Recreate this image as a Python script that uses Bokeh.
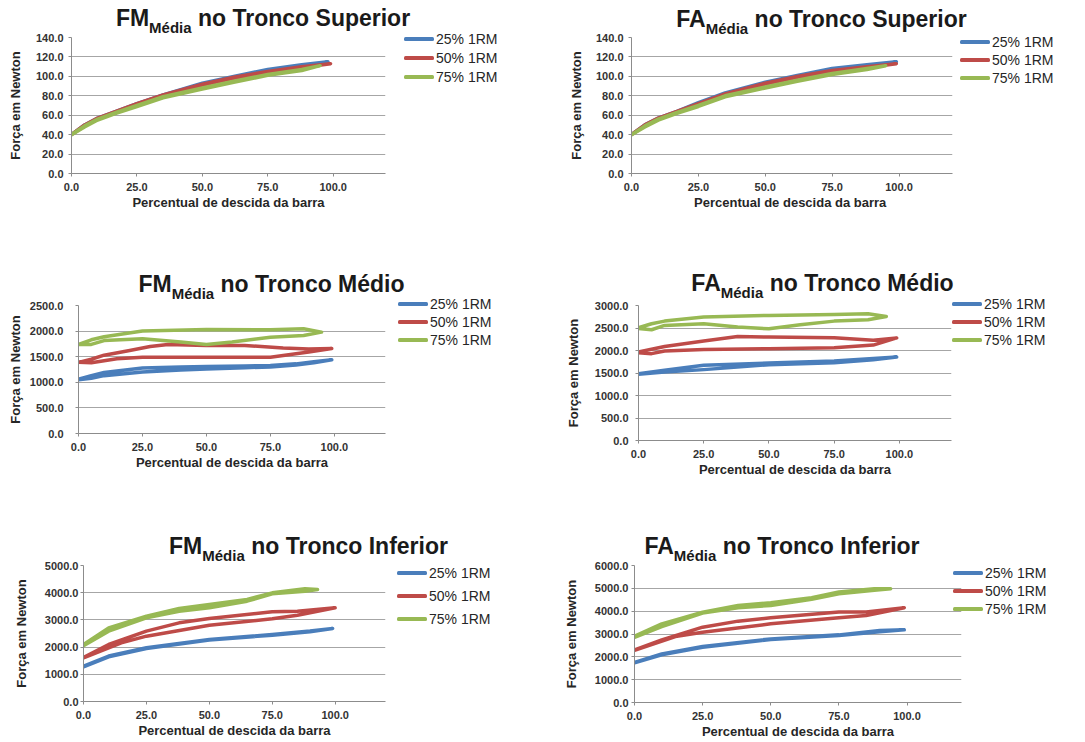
from bokeh.plotting import figure
from bokeh.layouts import column, row
from bokeh.models import Range1d, FixedTicker, NumeralTickFormatter, Div
from bokeh.embed import file_html
from bokeh.resources import INLINE

# ---------------- data ----------------
series_labels = ["25% 1RM", "50% 1RM", "75% 1RM"]
x_ticks = [0, 25, 50, 75, 100]
x_title = "Percentual de descida da barra"
x_title_2 = "Percentual de descida da  barra"
y_title = "Força em Newton"

# FM Tronco Superior (loops: outgoing then returning)
fm_sup_x_25 = [0, 5, 10, 17, 25, 35, 50, 62, 75, 88, 98, 88, 75, 62, 50, 35, 25, 17, 10, 5, 0]
fm_sup_y_25 = [40, 50, 57, 64, 72, 81, 93, 100, 107, 112, 115, 111, 106, 99, 92, 80, 71, 63, 56, 49, 40]
fm_sup_x_50 = [0, 5, 10, 17, 25, 35, 50, 62, 75, 88, 99, 88, 75, 62, 50, 35, 25, 17, 10, 5, 0]
fm_sup_y_50 = [40, 50, 57, 64, 72, 81, 92, 99, 105, 110, 113, 109, 104, 98, 91, 80, 71, 63, 56, 49, 40]
fm_sup_x_75 = [0, 5, 10, 17, 25, 35, 50, 62, 75, 88, 95, 88, 75, 62, 50, 35, 25, 17, 10, 5, 0]
fm_sup_y_75 = [40, 49, 56, 63, 70, 79, 88, 95, 102, 107, 111, 106, 101, 94, 87, 78, 69, 62, 55, 48, 40]

# FA Tronco Superior
fa_sup_x_25 = [0, 5, 10, 17, 25, 35, 50, 62, 75, 88, 99, 88, 75, 62, 50, 35, 25, 17, 10, 5, 0]
fa_sup_y_25 = [40, 50, 57, 64, 73, 83, 94, 101, 108, 112, 115, 111, 107, 100, 93, 82, 72, 63, 56, 49, 40]
fa_sup_x_50 = [0, 5, 10, 17, 25, 35, 50, 62, 75, 88, 99, 88, 75, 62, 50, 35, 25, 17, 10, 5, 0]
fa_sup_y_50 = [40, 50, 57, 64, 72, 82, 93, 100, 106, 110, 113, 109, 105, 99, 92, 81, 71, 63, 56, 49, 40]
fa_sup_x_75 = [0, 5, 10, 17, 25, 35, 50, 62, 75, 88, 95, 88, 75, 62, 50, 35, 25, 17, 10, 5, 0]
fa_sup_y_75 = [40, 49, 56, 63, 70, 80, 89, 96, 103, 108, 111, 107, 102, 95, 88, 79, 69, 62, 55, 48, 40]

# FM Tronco Medio
fm_med_x_25 = [0, 5, 10, 25, 40, 50, 65, 75, 85, 92, 99, 92, 85, 75, 65, 50, 40, 25, 10, 5, 0]
fm_med_y_25 = [1060, 1130, 1190, 1280, 1300, 1310, 1320, 1330, 1360, 1400, 1440, 1380, 1340, 1300, 1285, 1260, 1240, 1200, 1130, 1080, 1050]
fm_med_x_50 = [0, 5, 10, 20, 28, 35, 50, 65, 80, 90, 99, 90, 75, 50, 25, 15, 5, 0]
fm_med_y_50 = [1390, 1450, 1530, 1620, 1700, 1740, 1720, 1720, 1670, 1650, 1660, 1590, 1490, 1490, 1490, 1460, 1380, 1390]
fm_med_x_75 = [0, 5, 10, 25, 50, 75, 88, 95, 88, 75, 60, 50, 40, 25, 10, 5, 0]
fm_med_y_75 = [1740, 1830, 1890, 2000, 2030, 2025, 2045, 1980, 1915, 1880, 1785, 1740, 1785, 1850, 1815, 1740, 1740]

# FA Tronco Medio
fa_med_x_25 = [0, 10, 25, 50, 75, 90, 99, 90, 75, 50, 25, 10, 0]
fa_med_y_25 = [1485, 1560, 1670, 1720, 1765, 1820, 1855, 1795, 1730, 1685, 1575, 1520, 1470]
fa_med_x_50 = [0, 10, 25, 38, 50, 75, 90, 99, 90, 75, 50, 25, 10, 5, 0]
fa_med_y_50 = [1966, 2090, 2210, 2310, 2300, 2285, 2230, 2280, 2120, 2060, 2040, 2020, 1990, 1930, 1950]
fa_med_x_75 = [0, 5, 10, 25, 50, 75, 88, 95, 88, 75, 62, 50, 38, 25, 10, 5, 0]
fa_med_y_75 = [2506, 2594, 2653, 2742, 2780, 2800, 2816, 2757, 2683, 2653, 2572, 2483, 2520, 2594, 2557, 2461, 2490]

# FM Tronco Inferior
fm_inf_x_25 = [0, 10, 25, 50, 75, 90, 99, 90, 75, 50, 25, 10, 0]
fm_inf_y_25 = [1300, 1670, 1975, 2280, 2465, 2590, 2685, 2560, 2440, 2260, 1950, 1640, 1270]
fm_inf_x_50 = [0, 10, 25, 38, 50, 75, 85, 100, 85, 75, 50, 25, 15, 0]
fm_inf_y_50 = [1620, 2096, 2586, 2892, 3051, 3297, 3321, 3444, 3174, 3039, 2806, 2402, 2157, 1600]
fm_inf_x_75 = [0, 10, 25, 38, 50, 65, 75, 88, 93, 88, 75, 65, 50, 38, 25, 10, 0]
fm_inf_y_75 = [2096, 2708, 3137, 3419, 3566, 3750, 3995, 4142, 4118, 4056, 3958, 3689, 3444, 3321, 3076, 2586, 2050]

# FA Tronco Inferior
fa_inf_x_25 = [0, 10, 25, 50, 75, 90, 99, 90, 75, 50, 25, 10, 0]
fa_inf_y_25 = [1760, 2126, 2449, 2786, 2962, 3152, 3182, 3100, 2930, 2760, 2420, 2090, 1740]
fa_inf_x_50 = [0, 10, 25, 38, 50, 75, 85, 99, 85, 75, 50, 25, 15, 0]
fa_inf_y_50 = [2302, 2742, 3299, 3563, 3710, 3959, 3959, 4150, 3812, 3710, 3446, 3079, 2889, 2280]
fa_inf_x_75 = [0, 10, 25, 38, 50, 65, 75, 88, 94, 88, 75, 65, 50, 38, 25, 10, 0]
fa_inf_y_75 = [2903, 3446, 3959, 4252, 4370, 4589, 4839, 4985, 4985, 4912, 4765, 4516, 4252, 4150, 3915, 3328, 2850]

# ---------------- style ----------------
colors = ["#4A7EBB", "#BE4B48", "#98B954"]
FONT = "Liberation Sans"
PAGE_W, PAGE_H = 1084, 740


def make_panel(cfg, xs, ys, xlabel, ymax, ystep):
    fl, ft, fw, fh = cfg["frame"]
    col_left, row_top, width, row_h = cfg["box"]
    bl = fl - col_left
    bt = ft - row_top
    br = width - bl - fw
    bb = row_h - bt - fh
    p = figure(frame_width=fw, frame_height=fh,
               min_border_left=bl, min_border_top=bt, min_border_right=br, min_border_bottom=bb,
               x_range=Range1d(0, 120), y_range=Range1d(0, ymax),
               toolbar_location=None, output_backend="svg",
               background_fill_color="white", border_fill_color="white")
    p.outline_line_color = None
    p.xgrid.visible = False
    p.ygrid.grid_line_color = "#A6A6A6"
    p.ygrid.grid_line_width = 1

    p.xaxis.ticker = FixedTicker(ticks=x_ticks)
    p.yaxis.ticker = FixedTicker(ticks=list(range(0, ymax + 1, ystep)))
    for ax in (p.xaxis, p.yaxis):
        ax.formatter = NumeralTickFormatter(format="0.0")
        ax.axis_line_color = "#8C8C8C"
        ax.major_tick_line_color = "#8C8C8C"
        ax.major_tick_in = 0
        ax.major_tick_out = 3
        ax.minor_tick_in = 0
        ax.minor_tick_out = 0
        ax.major_label_text_font = FONT
        ax.major_label_text_font_size = "11px"
        ax.major_label_text_font_style = "bold"
        ax.major_label_text_color = "#333333"
        ax.axis_label_text_font = FONT
        ax.axis_label_text_font_size = "13px"
        ax.axis_label_text_font_style = "bold"
        ax.axis_label_text_color = "#262626"
    p.xaxis.axis_label = xlabel
    p.yaxis.axis_label = y_title
    p.xaxis.major_label_standoff = 6
    p.xaxis.axis_label_standoff = 1
    p.yaxis.major_label_standoff = cfg["ystand"][0]
    p.yaxis.axis_label_standoff = cfg["ystand"][1]

    for col, x, y in zip(colors, xs, ys):
        p.line(x, y, line_color=col, line_width=3.5, line_join="round", line_cap="round")
    return p


def title_html(cfg, prefix, rest):
    tc, base = cfg["title"]
    top = base - 19.5
    return (f'<div style="position:absolute;left:{tc}px;top:{top:.1f}px;transform:translateX(-50%);'
            f'white-space:nowrap;font-family:\'{FONT}\',Arial,sans-serif;font-weight:bold;'
            f'font-size:23px;line-height:23px;color:#1A1A1A;">{prefix}'
            f'<sub style="font-size:15px;line-height:0;vertical-align:-7px;">Média</sub> {rest}</div>')


def legend_html(cfg):
    gx, gtop = cfg["leg"]
    rh = cfg["leg_rh"]
    out = []
    for i, (lab, col) in enumerate(zip(series_labels, colors)):
        cy = gtop + rh * (i + 0.5)
        out.append(f'<div style="position:absolute;left:{gx}px;top:{cy - 1.75:.2f}px;width:30px;height:3.5px;'
                   f'background:{col};border-radius:1.5px;"></div>')
        out.append(f'<div style="position:absolute;left:{gx + 32}px;top:{cy - 8:.2f}px;white-space:nowrap;'
                   f'font-family:\'{FONT}\',Arial,sans-serif;font-size:14px;line-height:16px;'
                   f'color:#262626;">{lab}</div>')
    return "".join(out)


cfgs = [
    dict(frame=(71, 35, 314, 136), box=(0, 0, 540, 250), ystand=(5, 10), leg=(404, 28.5), leg_rh=19, title=(263, 25)),
    dict(frame=(631, 37, 321, 136), box=(540, 0, 544, 250), ystand=(5, 9), leg=(960, 32), leg_rh=18, title=(821.5, 26)),
    dict(frame=(78, 305, 307, 128), box=(0, 250, 540, 245), ystand=(12, 4), leg=(398, 294), leg_rh=18, title=(271.5, 291)),
    dict(frame=(638, 302, 313, 135), box=(540, 250, 544, 245), ystand=(7, 11), leg=(952, 294), leg_rh=18, title=(822.5, 290)),
    dict(frame=(83, 564, 302, 136), box=(0, 495, 540, 245), ystand=(2, 13), leg=(397, 560.5), leg_rh=23, title=(308.5, 553)),
    dict(frame=(634, 565, 327, 137), box=(540, 495, 544, 245), ystand=(3, 13), leg=(953, 563), leg_rh=18, title=(782, 553)),
]

p1 = make_panel(cfgs[0], [fm_sup_x_25, fm_sup_x_50, fm_sup_x_75], [fm_sup_y_25, fm_sup_y_50, fm_sup_y_75], x_title, 140, 20)
p2 = make_panel(cfgs[1], [fa_sup_x_25, fa_sup_x_50, fa_sup_x_75], [fa_sup_y_25, fa_sup_y_50, fa_sup_y_75], x_title_2, 140, 20)
p3 = make_panel(cfgs[2], [fm_med_x_25, fm_med_x_50, fm_med_x_75], [fm_med_y_25, fm_med_y_50, fm_med_y_75], x_title, 2500, 500)
p4 = make_panel(cfgs[3], [fa_med_x_25, fa_med_x_50, fa_med_x_75], [fa_med_y_25, fa_med_y_50, fa_med_y_75], x_title, 3000, 500)
p5 = make_panel(cfgs[4], [fm_inf_x_25, fm_inf_x_50, fm_inf_x_75], [fm_inf_y_25, fm_inf_y_50, fm_inf_y_75], x_title, 5000, 1000)
p6 = make_panel(cfgs[5], [fa_inf_x_25, fa_inf_x_50, fa_inf_x_75], [fa_inf_y_25, fa_inf_y_50, fa_inf_y_75], x_title, 6000, 1000)

titles = [("FM", "no Tronco Superior"), ("FA", "no Tronco Superior"),
          ("FM", "no Tronco Médio"), ("FA", "no Tronco Médio"),
          ("FM", "no Tronco Inferior"), ("FA", "no Tronco Inferior")]
html = (f'<div style="position:relative;width:{PAGE_W}px;height:{PAGE_H}px;">'
        + "".join(title_html(c, a, b) + legend_html(c) for c, (a, b) in zip(cfgs, titles)) + '</div>')
overlay = Div(text=html, width=PAGE_W, height=PAGE_H, margin=(-PAGE_H, 0, 0, 0),
              styles={"pointer-events": "none"})

layout = column(row(p1, p2, spacing=0), row(p3, p4, spacing=0), row(p5, p6, spacing=0),
                overlay, spacing=0)
open("out.html", "w").write(file_html(layout, INLINE))
